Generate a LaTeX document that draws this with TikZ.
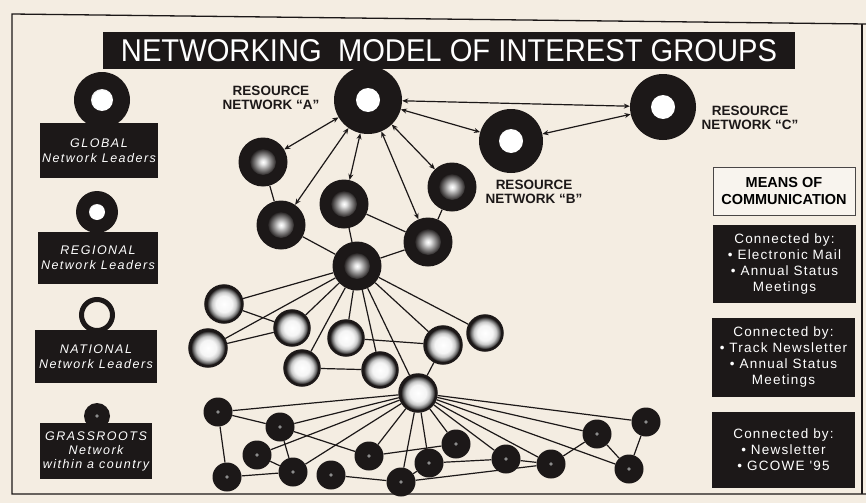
\documentclass[tikz,border=0pt]{standalone}
\usepackage{fontspec}
\setmainfont{Liberation Sans}
\newfontfamily\legfont[LetterSpace=12]{Liberation Sans}
\newfontfamily\comfont[LetterSpace=9]{Liberation Sans}
\usetikzlibrary{arrows.meta}
\definecolor{ink}{HTML}{1C1818}
\definecolor{paper}{HTML}{F4EDE2}
\pgfdeclareradialshading{holeshade}{\pgfpoint{0bp}{0bp}}{color(0bp)=(white); color(9bp)=(white); color(17bp)=(ink); color(50bp)=(ink)}
\pgfdeclareradialshading{glowshade}{\pgfpoint{0bp}{0bp}}{color(0bp)=(white); color(2.5bp)=(white!90!black); color(14bp)=(ink); color(50bp)=(ink)}
\pgfdeclareradialshading{natshade}{\pgfpoint{0bp}{0bp}}{color(0bp)=(white); color(11bp)=(white!96!black); color(16bp)=(black!20); color(20bp)=(black!55); color(23bp)=(ink); color(50bp)=(ink)}
\begin{document}
\begin{tikzpicture}[x=1pt,y=-1pt,
  res/.style={circle, fill=ink, inner sep=0pt, minimum size=#1,
    path picture={\shade[shading=holeshade] (path picture bounding box.center) circle (12pt);}},
  reg/.style={circle, fill=ink, inner sep=0pt, minimum size=#1,
    path picture={\shade[shading=glowshade] (path picture bounding box.center) circle (13pt);}},
  reg/.default=49pt,
  nat/.style={circle, draw=ink, line width=2.5pt, inner sep=0pt, minimum size=#1, shade, shading=natshade},
  nat/.default=35pt,
  grs/.style={circle, fill=ink, inner sep=0pt, minimum size=#1,
    path picture={\fill[black!45] (path picture bounding box.center) circle (1.8pt);}},
  grs/.default=29pt,
  lnk/.style={draw=ink, line width=1.2pt},
  arr/.style={lnk, {Stealth[length=6pt,width=5pt]}-{Stealth[length=6pt,width=5pt]}},
  legbox/.style={fill=ink, text=white, inner sep=0pt, align=center,
    font=\legfont\itshape\fontsize{12.5}{15}\selectfont},
  combox/.style={fill=ink, text=white, inner sep=0pt, align=center,
    minimum width=143pt, font=\comfont\fontsize{13.5}{16}\selectfont},
  lab/.style={align=center, text=ink, inner sep=0pt,
    font=\bfseries\fontsize{13.5}{13.5}\selectfont}
]
% background and frame
\fill[paper] (0,0) rectangle (866,503);
\useasboundingbox (0,0) rectangle (866,503);
\draw[ink, line width=1.3pt] (866,24) -- (12,14) -- (12,494) -- (866,494);
\draw[ink, line width=1.1pt] (862,24) -- (862,494);

% title
\node (title) [fill=ink, minimum width=692pt, minimum height=36pt, inner sep=0pt] at (449,50.5)
  {\resizebox{656pt}{22pt}{\color{white}NETWORKING\ \ MODEL OF INTEREST GROUPS}};

% legend
\node (gcirc) [circle, fill=ink, inner sep=0pt, minimum size=56pt,
  path picture={\shade[shading=holeshade] (path picture bounding box.center) circle (11pt);}] at (102,100) {};
\node (gbox) [legbox, minimum width=118pt, minimum height=55pt] at (99,150.5) {GLOBAL\\Network Leaders};
\node (rcirc) [circle, fill=ink, inner sep=0pt, minimum size=42pt,
  path picture={\shade[shading=holeshade] (path picture bounding box.center) circle (8pt);}] at (97,212) {};
\node (rbox) [legbox, minimum width=120pt, minimum height=52pt] at (98,258) {REGIONAL\\Network Leaders};
\node (ncirc) [circle, draw=ink, line width=5pt, fill=paper, inner sep=0pt, minimum size=31pt] at (97,315) {};
\node (nbox) [legbox, minimum width=122pt, minimum height=53pt] at (96,356.5) {NATIONAL\\Network Leaders};
\node (grcirc) [grs, minimum size=26pt] at (97,416) {};
\node (grbox) [legbox, minimum width=112pt, minimum height=56pt,
  font=\legfont\itshape\fontsize{12.5}{14}\selectfont] at (96,451) {GRASSROOTS\\Network\\within a country};

% resource networks
\node (A) [res=68pt] at (368,100) {};
\node (B) [res=64pt] at (511,141) {};
\node (C) [res=66pt] at (663,107) {};
\node (labA) [lab] at (271,98) {RESOURCE\\NETWORK ``A''};
\node (labB) [lab] at (534,192) {RESOURCE\\NETWORK ``B''};
\node (labC) [lab] at (750,118) {RESOURCE\\NETWORK ``C''};

% regional
\node (R1) [reg] at (263,162) {};
\node (R2) [reg] at (281,225) {};
\node (R3) [reg] at (344,204) {};
\node (R4) [reg] at (452,187) {};
\node (R5) [reg] at (428,242) {};
\node (R6) [reg] at (357,266) {};

% national
\node (N1) [nat=37pt] at (224,304) {};
\node (N2) [nat] at (292,328) {};
\node (N3) [nat=37pt] at (208,348) {};
\node (N4) [nat] at (346,338) {};
\node (N5) [nat] at (302,368) {};
\node (N6) [nat] at (380,370) {};
\node (N7) [nat=37pt] at (443,345) {};
\node (N8) [nat] at (485,333) {};
\node (N9) [nat=37pt] at (418,393) {};

% grassroots
\node (G1) [grs] at (218,412) {};
\node (G2) [grs] at (280,427) {};
\node (G3) [grs] at (257,455) {};
\node (G4) [grs] at (227,477) {};
\node (G5) [grs] at (293,472) {};
\node (G6) [grs] at (331,475) {};
\node (G7) [grs] at (369,456) {};
\node (G8) [grs] at (401,482) {};
\node (G9) [grs] at (429,463) {};
\node (G10) [grs] at (456,444) {};
\node (G11) [grs] at (506,459) {};
\node (G12) [grs] at (551,464) {};
\node (G13) [grs] at (597,434) {};
\node (G14) [grs] at (646,422) {};
\node (G15) [grs] at (629,469) {};

% connectors: resource level
\draw[arr] (A) -- (C);
\draw[arr] (A) -- (B);
\draw[arr] (B) -- (C);
\draw[arr] (A) -- (R1);
\draw[arr] (A) -- (R2);
\draw[arr] (A) -- (R3);
\draw[arr] (A) -- (R4);
\draw[arr] (A) -- (R5);
% regional
\draw[lnk] (R1) -- (R2);
\draw[lnk] (R2) -- (R6);
\draw[lnk] (R3) -- (R6);
\draw[lnk] (R3) -- (R5);
\draw[lnk] (R5) -- (R6);
\draw[lnk] (R4) -- (R5);
% national
\foreach \n in {N1,N2,N3,N4,N5,N6,N7,N8,N9} \draw[lnk] (R6) -- (\n);
\draw[lnk] (N1) -- (N2);
\draw[lnk] (N3) -- (N2);
\draw[lnk] (N4) -- (N7);
\draw[lnk] (N5) -- (N6);
\draw[lnk] (N7) -- (N9);
% grassroots
\foreach \g in {G1,G2,G3,G5,G7,G8,G9,G10,G11,G12,G13,G14,G15} \draw[lnk] (N9) -- (\g);
\draw[lnk] (G1) -- (G2);
\draw[lnk] (G1) -- (G4);
\draw[lnk] (G2) -- (G5);
\draw[lnk] (G2) -- (G7);
\draw[lnk] (G3) -- (G5);
\draw[lnk] (G4) -- (G5);
\draw[lnk] (G6) -- (G8);
\draw[lnk] (G7) -- (G10);
\draw[lnk] (G8) -- (G9);
\draw[lnk] (G9) -- (G11);
\draw[lnk] (G8) -- (G12);
\draw[lnk] (G11) -- (G12);
\draw[lnk] (G12) -- (G13);
\draw[lnk] (G13) -- (G15);
\draw[lnk] (G14) -- (G15);

% means of communication
\node (means) [draw=ink!80, line width=1pt, fill=paper!60!white, minimum width=142pt, minimum height=48pt,
  align=center, inner sep=0pt, font=\bfseries\fontsize{14.5}{17}\selectfont] at (784,191) {MEANS OF\\COMMUNICATION};
\node (cb1) [combox, minimum height=78pt] at (784.5,264) {Connected by:\\\textbullet\ Electronic Mail\\\textbullet\ Annual Status\\Meetings};
\node (cb2) [combox, minimum height=79pt] at (783.5,357.5) {Connected by:\\\textbullet\ Track Newsletter\\\textbullet\ Annual Status\\Meetings};
\node (cb3) [combox, minimum height=76pt] at (783.5,450) {Connected by:\\\textbullet\ Newsletter\\\textbullet\ GCOWE '95};
\end{tikzpicture}
\end{document}
